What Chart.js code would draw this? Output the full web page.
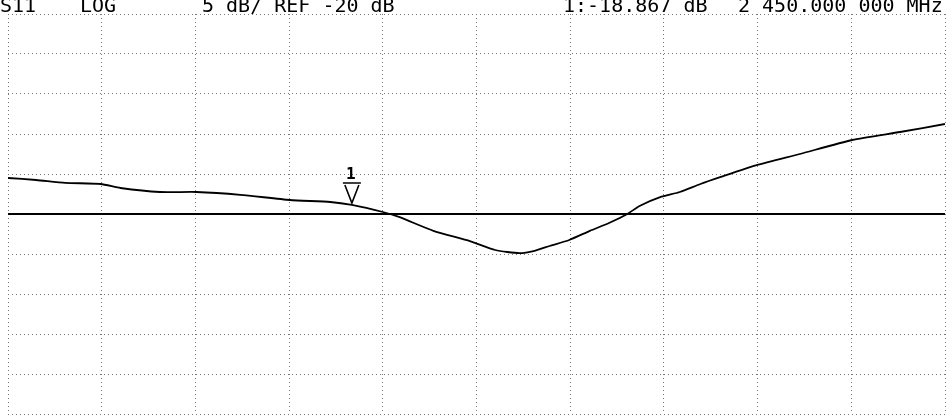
<!DOCTYPE html>
<html>
<head>
<meta charset="utf-8">
<script src="https://cdn.jsdelivr.net/npm/chart.js@4/dist/chart.umd.min.js"></script>
<style>
  html, body { margin: 0; padding: 0; background: #fff; }
  #wrap { width: 947px; height: 415px; position: relative; }
</style>
</head>
<body>
<div id="wrap"><canvas id="s11"></canvas></div>
<script>
// sweep position in graticule divisions (0..10)
const sweepDiv = [0, 0.30, 0.61, 0.99, 1.20, 1.62, 2.01, 2.48, 3.01, 3.44, 3.67, 4.00, 4.18, 4.54, 4.93,
  5.20, 5.46, 5.62, 5.78, 5.99, 6.21, 6.42, 6.61, 6.74, 6.96, 7.17, 7.39, 7.60, 7.99, 8.45, 9.01, 9.52, 10];
// S11 magnitude, dB
const s11dB = [-15.5, -15.75, -16.1, -16.25, -16.75, -17.25, -17.25, -17.6, -18.25, -18.5, -18.87, -19.75, -20.4, -22.1, -23.4,
  -24.5, -24.9, -24.6, -24.0, -23.25, -22.1, -21.1, -20.0, -19.0, -17.9, -17.25, -16.25, -15.4, -13.9, -12.5, -10.75, -9.75, -8.75];

const refLevel = -20;
const scalePerDiv = 5;
const markerDiv = 3.67;
const markerdB = -18.867;

const header = [
  { text: "S11", x: 0 },
  { text: "LOG", x: 80 },
  { text: "5 dB/ REF -20 dB", x: 202 },
  { text: "1:-18.867 dB", x: 563 },
  { text: "2 450.000 000 MHz", x: 738 }
];

const points = sweepDiv.map((d, i) => ({ x: d, y: s11dB[i] }));

const markerPlugin = {
  id: "marker",
  afterDatasetsDraw(chart) {
    const ctx = chart.ctx;
    const xs = chart.scales.x, ys = chart.scales.y;
    const px = xs.getPixelForValue(markerDiv);
    const py = ys.getPixelForValue(markerdB);
    ctx.save();
    ctx.strokeStyle = "#000";
    ctx.lineWidth = 1.6;
    ctx.beginPath();
    ctx.moveTo(px - 9, py - 22);
    ctx.lineTo(px + 9, py - 22);
    ctx.moveTo(px - 7, py - 20);
    ctx.lineTo(px, py - 2);
    ctx.lineTo(px + 7, py - 20);
    ctx.stroke();
    ctx.fillStyle = "#000";
    ctx.font = "bold 16px 'DejaVu Sans Mono'";
    ctx.textAlign = "center";
    ctx.textBaseline = "alphabetic";
    ctx.fillText("1", px - 1, py - 26);
    ctx.restore();
  },
  afterDraw(chart) {
    const ctx = chart.ctx;
    ctx.save();
    ctx.fillStyle = "#000";
    ctx.font = "20px 'DejaVu Sans Mono'";
    ctx.textBaseline = "alphabetic";
    header.forEach(h => ctx.fillText(h.text, h.x, 12));
    ctx.restore();
  }
};

const gridOpts = { color: "#777", lineWidth: 1, drawTicks: false };
const borderOpts = { display: false, dash: [1, 3] };

new Chart(document.getElementById("s11"), {
  type: "line",
  data: {
    datasets: [
      {
        label: "S11",
        data: points,
        borderColor: "#000",
        borderWidth: 1.8,
        pointRadius: 0,
        tension: 0.2
      },
      {
        label: "REF",
        data: [{ x: 0, y: refLevel }, { x: 10, y: refLevel }],
        borderColor: "#000",
        borderWidth: 2,
        pointRadius: 0
      }
    ]
  },
  options: {
    responsive: true,
    maintainAspectRatio: false,
    animation: false,
    layout: { padding: { left: 8, right: 2, top: 14, bottom: 1 } },
    plugins: { legend: { display: false }, tooltip: { enabled: false } },
    scales: {
      x: {
        type: "linear",
        min: 0,
        max: 10,
        ticks: { display: false, stepSize: 1 },
        border: borderOpts,
        grid: gridOpts
      },
      y: {
        min: refLevel - 5 * scalePerDiv,
        max: refLevel + 5 * scalePerDiv,
        ticks: { display: false, stepSize: scalePerDiv },
        border: borderOpts,
        grid: gridOpts
      }
    }
  },
  plugins: [markerPlugin]
});
</script>
</body>
</html>
